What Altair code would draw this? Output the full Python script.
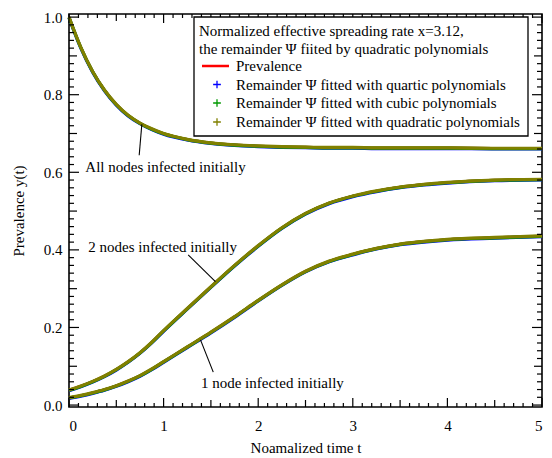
import altair as alt
import numpy as np
import pandas as pd

# Normalized time grid and prevalence curves for the three initial conditions
t = [0, 0.125, 0.25, 0.375, 0.5, 0.625, 0.75, 0.875, 1.0, 1.25, 1.5, 1.75, 2.0, 2.25, 2.5,
     2.75, 3.0, 3.25, 3.5, 3.75, 4.0, 4.5, 5.0]
y_all = [1.000, 0.922, 0.860, 0.812, 0.775, 0.747, 0.727, 0.712, 0.700, 0.685, 0.676, 0.671,
         0.668, 0.666, 0.665, 0.664, 0.664, 0.663, 0.663, 0.663, 0.663, 0.662, 0.662]
y_two = [0.039, 0.049, 0.061, 0.075, 0.092, 0.112, 0.135, 0.162, 0.192, 0.249, 0.305, 0.360,
         0.411, 0.457, 0.494, 0.521, 0.539, 0.552, 0.562, 0.569, 0.574, 0.580, 0.582]
y_one = [0.019, 0.025, 0.032, 0.040, 0.050, 0.062, 0.076, 0.093, 0.112, 0.150, 0.188, 0.228,
         0.270, 0.310, 0.345, 0.371, 0.389, 0.404, 0.415, 0.422, 0.427, 0.432, 0.436]

# The polynomial fits of the remainder coincide with the prevalence curves
prevalence = {"all": y_all, "two": y_two, "one": y_one}
fit_quartic = {"all": y_all, "two": y_two, "one": y_one}
fit_cubic = {"all": y_all, "two": y_two, "one": y_one}
fit_quadratic = {"all": y_all, "two": y_two, "one": y_one}

legend_title = ["Normalized effective spreading rate x=3.12,",
                "the remainder \u03a8 fiited by quadratic polynomials"]
series_labels = ["Prevalence",
                 "Remainder \u03a8 fitted with quartic polynomials",
                 "Remainder \u03a8 fitted with cubic polynomials",
                 "Remainder \u03a8 fitted with quadratic polynomials"]
series_colors = ["#ff0000", "#0000ff", "#009900", "#808000"]

# Curve annotations: label position and pointer segment (data coordinates)
ann_text = ["All nodes infected initially", "2 nodes infected initially", "1 node infected initially"]
ann_tx = [1.02, 0.99, 2.15]
ann_ty = [0.613, 0.407, 0.057]
ptr_t0 = [0.742, 1.26, 1.525]
ptr_y0 = [0.644, 0.387, 0.085]
ptr_t1 = [0.77, 1.548, 1.39]
ptr_y1 = [0.724, 0.318, 0.168]

W, H = 473, 393
FONT = "Liberation Serif"

xs = alt.Scale(domain=[0, 5], nice=False, zero=False)
ys = alt.Scale(domain=[-0.005, 1.008], nice=False, zero=False)
x_axis = alt.Axis(title="Noamalized time t", values=[0, 1, 2, 3, 4, 5], format="d",
                  labelPadding=11, titlePadding=7)
y_axis = alt.Axis(title="Prevalence y(t)", values=[0, 0.2, 0.4, 0.6, 0.8, 1.0], format=".1f",
                  labelPadding=7, titlePadding=17)


def X(field):
    return alt.X(field, type="quantitative", scale=xs, axis=x_axis)


def Y(field):
    return alt.Y(field, type="quantitative", scale=ys, axis=y_axis)


def curves(data, name):
    rows = []
    for key, vals in data.items():
        for ti, yi in zip(t, vals):
            rows.append({"t": ti, "y": yi, "run": key, "series": name})
    return pd.DataFrame(rows)


def curve_layer(data, name, color, width, offset):
    return alt.Chart(curves(data, name)).mark_line(
        color=color, strokeWidth=width, interpolate="monotone", yOffset=offset
    ).encode(x=X("t"), y=Y("y"), detail="run:N")


layers = [
    curve_layer(prevalence, series_labels[0], series_colors[0], 2.5, 0.0),
    curve_layer(fit_quartic, series_labels[1], series_colors[1], 3.2, 0.7),
    curve_layer(fit_cubic, series_labels[2], series_colors[2], 3.2, 0.35),
    curve_layer(fit_quadratic, series_labels[3], series_colors[3], 3.2, 0.0),
]

# Annotation texts and pointers
ann = pd.DataFrame({"label": ann_text, "tx": ann_tx, "ty": ann_ty,
                    "t0": ptr_t0, "y0": ptr_y0, "t1": ptr_t1, "y1": ptr_y1})
layers.append(alt.Chart(ann).mark_rule(color="black", strokeWidth=1.1).encode(
    x=X("t0"), y=Y("y0"), x2="t1", y2="y1"))
layers.append(alt.Chart(ann).mark_text(font=FONT, fontSize=15, color="black",
                                       align="center", baseline="middle").encode(
    x=X("tx"), y=Y("ty"), text="label:N"))

# Inward tick marks on all four sides
x_all = np.round(np.arange(0, 5.0001, 0.1), 2)
x_major = [v for v in x_all if abs(v - round(v)) < 1e-6]
x_medium = [v for v in x_all if abs(v - round(v)) > 1e-6 and abs(v * 2 - round(v * 2)) < 1e-6]
x_minor = [v for v in x_all if abs(v * 2 - round(v * 2)) > 1e-6]
y_grid = np.round(np.arange(0, 1.0001, 0.02), 2)
y_major = [v for v in y_grid if abs(v * 5 - round(v * 5)) < 1e-6]
y_medium = [v for v in y_grid if abs(v * 10 - round(v * 10)) < 1e-6 and abs(v * 5 - round(v * 5)) > 1e-6]
y_minor = [v for v in y_grid if abs(v * 10 - round(v * 10)) > 1e-6]

for vals, L in [(x_major, 9), (x_medium, 7), (x_minor, 4)]:
    df = pd.DataFrame({"v": vals})
    layers.append(alt.Chart(df).mark_rule(color="black", strokeWidth=1.2).encode(
        x=X("v"), y=alt.value(H), y2=alt.value(H - L)))
    layers.append(alt.Chart(df).mark_rule(color="black", strokeWidth=1.2).encode(
        x=X("v"), y=alt.value(0), y2=alt.value(L)))
for vals, L in [(y_major, 10), (y_medium, 8), (y_minor, 5)]:
    df = pd.DataFrame({"v": vals})
    layers.append(alt.Chart(df).mark_rule(color="black", strokeWidth=1.2).encode(
        y=Y("v"), x=alt.value(0), x2=alt.value(L)))
    layers.append(alt.Chart(df).mark_rule(color="black", strokeWidth=1.2).encode(
        y=Y("v"), x=alt.value(W), x2=alt.value(W - L)))

# Legend box
one = pd.DataFrame({"k": [0]})
layers.append(alt.Chart(one).mark_rect(fill="white", stroke="black", strokeWidth=1.3).encode(
    x=alt.value(125), x2=alt.value(459), y=alt.value(3), y2=alt.value(122)))
for i, line in enumerate(legend_title):
    layers.append(alt.Chart(one).mark_text(text=line, font=FONT, fontSize=15, color="black",
                                           align="left", baseline="middle").encode(
        x=alt.value(130), y=alt.value(17 + 18 * i)))
row_y = [52, 70.5, 89, 108]
layers.append(alt.Chart(one).mark_rule(color=series_colors[0], strokeWidth=2.5).encode(
    x=alt.value(133), x2=alt.value(160), y=alt.value(row_y[0])))
plus = "M-1,0L1,0M0,-1L0,1"
for i in range(1, 4):
    layers.append(alt.Chart(one).mark_point(shape=plus, filled=False, size=60, strokeWidth=1.3,
                                            color=series_colors[i], opacity=1).encode(
        x=alt.value(148), y=alt.value(row_y[i])))
for i, lab in enumerate(series_labels):
    layers.append(alt.Chart(one).mark_text(text=lab, font=FONT, fontSize=15, color="black",
                                           align="left", baseline="middle").encode(
        x=alt.value(167), y=alt.value(row_y[i])))

chart = alt.layer(*layers).properties(
    width=W, height=H,
    background="white",
    autosize=alt.AutoSizeParams(type="none"),
    padding={"left": 69, "top": 14, "right": 10, "bottom": 51},
).configure_view(
    stroke="black", strokeWidth=1.6
).configure_axis(
    labelFont=FONT, labelFontSize=15, labelColor="black",
    titleFont=FONT, titleFontSize=15, titleFontWeight="normal", titleColor="black",
    ticks=False, domain=False, grid=False,
)

chart.save("out.html", embed_options={"renderer": "svg", "actions": False})
